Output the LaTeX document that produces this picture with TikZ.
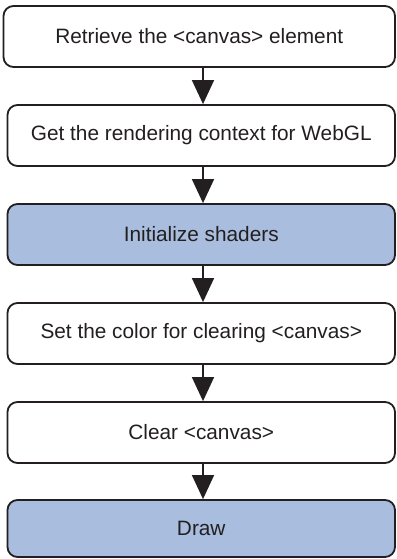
\documentclass[tikz,border=0pt]{standalone}
\usepackage{fontspec}
\setmainfont{Liberation Sans}
\usetikzlibrary{arrows.meta}
\definecolor{inkc}{RGB}{35,31,32}
\definecolor{bluefill}{RGB}{169,189,223}
\tikzset{
  stepbox/.style={draw=inkc, line width=1.8pt, rounded corners=10pt, fill=white,
    minimum width=387.5pt, minimum height=61pt, inner sep=0pt,
    font=\fontsize{20.8pt}{24pt}\selectfont, text=inkc},
  hibox/.style={stepbox, fill=bluefill},
  flowarrow/.style={draw=inkc, line width=1.5pt, -{Triangle[width=22pt,length=24pt]}}
}
\begin{document}
\begin{tikzpicture}[x=1pt,y=-1pt]
\useasboundingbox (0,0) rectangle (396,559);
\node[stepbox, minimum width=391.5pt] (b1) at (199.25,36.5) {Retrieve the <canvas> element};
\node[stepbox] (b2) at (201.25,135.5) {Get the rendering context for WebGL};
\node[hibox]   (b3) at (201.25,234.5) {Initialize shaders};
\node[stepbox] (b4) at (201.25,333.5) {Set the color for clearing <canvas>};
\node[stepbox] (b5) at (201.25,432.5) {Clear <canvas>};
\node[hibox, minimum height=57pt] (b6) at (201.25,528.5) {Draw};
\draw[flowarrow] ([xshift=3.75pt]b1.south) -- ([xshift=1.75pt]b2.north);
\foreach \a/\b in {b2/b3,b3/b4,b4/b5,b5/b6}
  \draw[flowarrow] ([xshift=1.75pt]\a.south) -- ([xshift=1.75pt]\b.north);
\end{tikzpicture}
\end{document}
